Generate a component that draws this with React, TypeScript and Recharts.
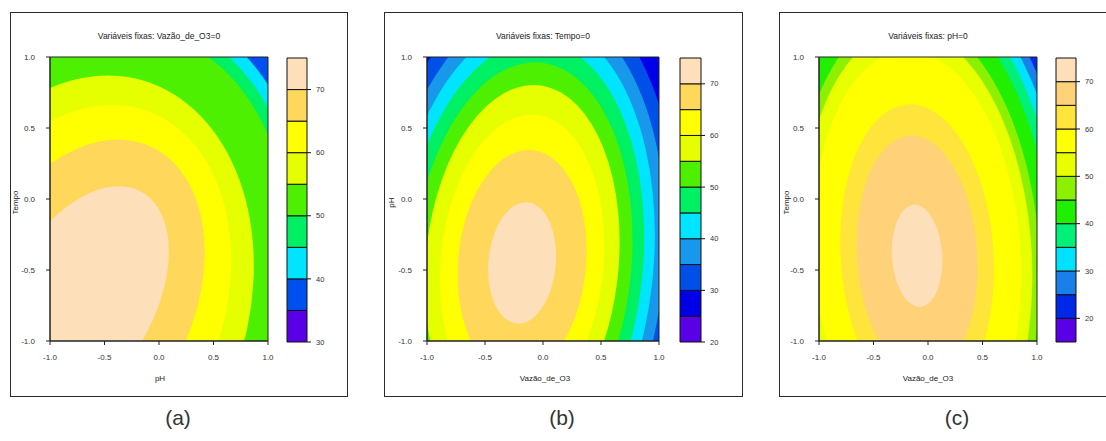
import { ComposedChart, ReferenceArea, XAxis, YAxis } from "recharts";

const AXIS_TICKS = [-1, -0.5, 0, 0.5, 1];

// (a) Vazão_de_O3 = 0 : pH (x) vs Tempo (y)
const levelsA = [30, 35, 40, 45, 50, 55, 60, 65, 70, 75];
const colorsA = ["#5a00e6", "#0050f0", "#00e5ff", "#00f064", "#4cf000", "#e6ff00", "#ffff00", "#ffd75a", "#fddfb9"];
const barTicksA = [30, 40, 50, 60, 70];
const centerA = [-0.72, -0.72];
const tiltA = 45;
// semi-axes of the region above each inner level (35 ... 70)
const rxA = [2.5, 2.3, 2.2, 2.1, 1.71, 1.52, 1.3, 0.97];
const ryA = [2.15, 2.0, 1.85, 1.69, 1.46, 1.23, 0.95, 0.61];

// (b) Tempo = 0 : Vazão_de_O3 (x) vs pH (y)
const levelsB = [20, 25, 30, 35, 40, 45, 50, 55, 60, 65, 70, 75];
const colorsB = ["#5a00e6", "#0000e8", "#0050e8", "#1898ea", "#00e5ff", "#00f064", "#4cf000", "#e6ff00", "#ffff00", "#ffd75a", "#fddfb9"];
const barTicksB = [20, 30, 40, 50, 60, 70];
const centerB = [-0.18, -0.45];
const tiltB = -8;
const rxB = [1.45, 1.32, 1.22, 1.13, 1.04, 0.94, 0.83, 0.7, 0.55, 0.29];
const ryB = [2.15, 1.98, 1.84, 1.71, 1.57, 1.42, 1.26, 1.05, 0.8, 0.43];

// (c) pH = 0 : Vazão_de_O3 (x) vs Tempo (y)
const levelsC = [15, 20, 25, 30, 35, 40, 45, 50, 55, 60, 65, 70, 75];
const colorsC = ["#5a00e6", "#0028e8", "#1880e8", "#00e2ff", "#00f078", "#20f000", "#8cf000", "#e8ff00", "#ffff00", "#ffe43c", "#ffd27a", "#fddfb9"];
const barTicksC = [20, 30, 40, 50, 60, 70];
const centerC = [-0.1, -0.4];
const tiltC = 6;
const rxC = [1.51, 1.45, 1.39, 1.32, 1.24, 1.12, 1.05, 0.95, 0.7, 0.55, 0.23];
const ryC = [2.27, 2.18, 2.08, 1.99, 1.87, 1.7, 1.6, 1.45, 1.07, 0.85, 0.36];

const FONT = "'Liberation Sans', Arial, sans-serif";
const PLOT_TOP = 57;
const PLOT_H = 284;

const fmt = (v: number) => v.toFixed(1);

// ellipse in data space, rotated by `tilt` degrees, mapped through the rect the axes gave us
function ellipseShape(rx: number, ry: number, tilt: number, fill: string) {
  return (p: any) => {
    const { x, y, width, height, clipPath } = p;
    if (width == null || height == null) return <g />;
    const sx = width / (2 * rx);
    const sy = height / (2 * ry);
    const t = (tilt * Math.PI) / 180;
    const c = Math.cos(t);
    const s = Math.sin(t);
    const cx = x + width / 2;
    const cy = y + height / 2;
    return (
      <g clipPath={clipPath}>
        <ellipse
          cx={0}
          cy={0}
          rx={rx}
          ry={ry}
          fill={fill}
          transform={`matrix(${sx * c} ${-sy * s} ${-sx * s} ${-sy * c} ${cx} ${cy})`}
        />
      </g>
    );
  };
}

type PanelProps = {
  boxLeft: number;
  boxWidth: number;
  plotLeft: number;
  plotWidth: number;
  barLeft: number;
  barWidth: number;
  title: string;
  xLabel: string;
  xLabelX: number;
  yLabel: string;
  yLabelX: number;
  caption: string;
  captionX: number;
  levels: number[];
  colors: string[];
  barTicks: number[];
  center: number[];
  tilt: number;
  rx: number[];
  ry: number[];
};

function Panel(p: PanelProps) {
  const [cx, cy] = p.center;
  const text = { position: "absolute" as const, fontFamily: FONT, color: "#222", whiteSpace: "nowrap" as const };
  return (
    <>
      <div
        style={{
          position: "absolute",
          left: p.boxLeft,
          top: 12,
          width: p.boxWidth,
          height: 385,
          border: "1.5px solid #2b2b2b",
          boxSizing: "border-box",
        }}
      />
      <div style={{ ...text, left: p.plotLeft + p.plotWidth / 2 - 150, width: 300, top: 31, fontSize: 8.5, textAlign: "center" }}>
        {p.title}
      </div>
      <div style={{ position: "absolute", left: p.plotLeft - 40, top: PLOT_TOP - 10 }}>
        <ComposedChart width={p.plotWidth + 50} height={PLOT_H + 45} margin={{ top: 10, right: 10, bottom: 5, left: 0 }}>
          <XAxis
            type="number"
            dataKey="x"
            domain={[-1, 1]}
            ticks={AXIS_TICKS}
            allowDataOverflow
            interval={0}
            tickFormatter={fmt}
            height={30}
            tickSize={4}
            tickMargin={9}
            stroke="#222"
            tick={{ fontSize: 8, fill: "#333", fontFamily: FONT }}
          />
          <YAxis
            type="number"
            dataKey="y"
            domain={[-1, 1]}
            ticks={AXIS_TICKS}
            allowDataOverflow
            interval={0}
            tickFormatter={fmt}
            width={40}
            tickSize={4}
            tickMargin={11}
            stroke="#222"
            tick={{ fontSize: 8, fill: "#333", fontFamily: FONT }}
          />
          <ReferenceArea x1={-1} x2={1} y1={-1} y2={1} fill={p.colors[0]} fillOpacity={1} stroke="none" />
          {p.rx.map((r, i) => (
            <ReferenceArea
              key={i}
              x1={cx - r}
              x2={cx + r}
              y1={cy - p.ry[i]}
              y2={cy + p.ry[i]}
              ifOverflow="hidden"
              shape={ellipseShape(r, p.ry[i], p.tilt, p.colors[i + 1])}
            />
          ))}
          <ReferenceArea x1={-1} x2={1} y1={-1} y2={1} fill="none" fillOpacity={0} stroke="#222" strokeWidth={1} />
        </ComposedChart>
      </div>
      <div style={{ position: "absolute", left: p.barLeft - 1, top: PLOT_TOP + 1 - 6 }}>
        <ComposedChart width={p.barWidth + 31} height={PLOT_H + 12} margin={{ top: 6, right: 0, bottom: 6, left: 1 }}>
          <XAxis type="number" dataKey="x" domain={[0, 1]} allowDataOverflow hide />
          <YAxis
            type="number"
            dataKey="y"
            orientation="right"
            domain={[p.levels[0], p.levels[p.levels.length - 1]]}
            ticks={p.barTicks}
            allowDataOverflow
            interval={0}
            width={30}
            axisLine={false}
            tickSize={4}
            tickMargin={5}
            stroke="#111"
            tick={{ fontSize: 7.5, fill: "#333", fontFamily: FONT }}
          />
          {p.colors.map((col, i) => (
            <ReferenceArea
              key={i}
              x1={0}
              x2={1}
              y1={p.levels[i]}
              y2={p.levels[i + 1]}
              fill={col}
              fillOpacity={1}
              stroke="#111"
              strokeWidth={1}
              ifOverflow="visible"
            />
          ))}
        </ComposedChart>
      </div>
      <div style={{ ...text, left: p.xLabelX - 60, width: 120, top: 374, fontSize: 8, textAlign: "center" }}>{p.xLabel}</div>
      <div
        style={{
          ...text,
          left: p.yLabelX - 30,
          width: 60,
          top: 198,
          fontSize: 8,
          textAlign: "center",
          transform: "rotate(-90deg)",
        }}
      >
        {p.yLabel}
      </div>
      <div style={{ ...text, left: p.captionX - 40, width: 80, top: 406, fontSize: 21, textAlign: "center", color: "#333" }}>
        {p.caption}
      </div>
    </>
  );
}

export default function App() {
  return (
    <div
      style={{
        position: "absolute",
        left: 0,
        top: 0,
        width: 1106,
        height: 441,
        overflow: "hidden",
        background: "#fff",
      }}
    >
      <Panel
        boxLeft={10}
        boxWidth={338}
        plotLeft={50}
        plotWidth={218}
        barLeft={287}
        barWidth={20}
        title="Variáveis fixas: Vazão_de_O3=0"
        xLabel="pH"
        xLabelX={160}
        yLabel="Tempo"
        yLabelX={15}
        caption="(a)"
        captionX={178}
        levels={levelsA}
        colors={colorsA}
        barTicks={barTicksA}
        center={centerA}
        tilt={tiltA}
        rx={rxA}
        ry={ryA}
      />
      <Panel
        boxLeft={384}
        boxWidth={359}
        plotLeft={427}
        plotWidth={232}
        barLeft={680}
        barWidth={21}
        title="Variáveis fixas: Tempo=0"
        xLabel="Vazão_de_O3"
        xLabelX={545}
        yLabel="pH"
        yLabelX={391}
        caption="(b)"
        captionX={562}
        levels={levelsB}
        colors={colorsB}
        barTicks={barTicksB}
        center={centerB}
        tilt={tiltB}
        rx={rxB}
        ry={ryB}
      />
      <Panel
        boxLeft={779}
        boxWidth={356}
        plotLeft={819}
        plotWidth={218}
        barLeft={1056}
        barWidth={20}
        title="Variáveis fixas: pH=0"
        xLabel="Vazão_de_O3"
        xLabelX={928}
        yLabel="Tempo"
        yLabelX={786}
        caption="(c)"
        captionX={957}
        levels={levelsC}
        colors={colorsC}
        barTicks={barTicksC}
        center={centerC}
        tilt={tiltC}
        rx={rxC}
        ry={ryC}
      />
    </div>
  );
}
